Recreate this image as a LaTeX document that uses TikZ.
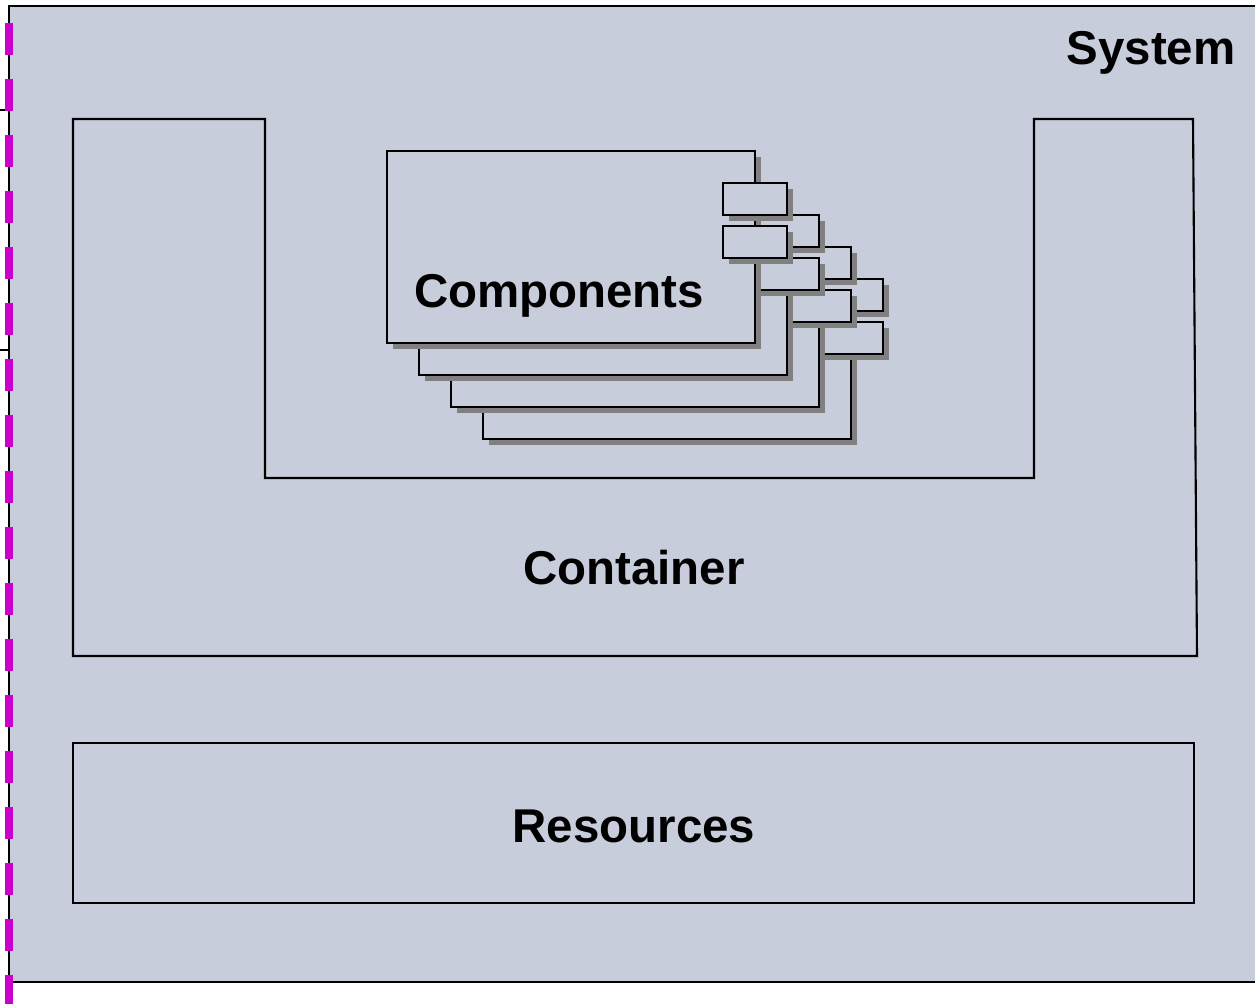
\documentclass[tikz,border=0pt]{standalone}
\usepackage{fontspec}
\setmainfont{Liberation Sans}
\definecolor{sysfill}{RGB}{200,205,219}
\definecolor{dashmag}{RGB}{204,0,204}
\definecolor{shadowgray}{RGB}{128,128,128}
\tikzset{
    outline/.style={draw=black, line width=1.2pt},
    compbox/.style={outline, fill=sysfill},
    bigtext/.style={font=\fontsize{27}{32}\selectfont\bfseries, inner sep=0pt, anchor=base},
}
\begin{document}
\begin{tikzpicture}[x=0.02cm, y=-0.02cm]
        \useasboundingbox (0,0) rectangle (1255,1004);

        %%%%%%%%%% Sistema %%%%%%%%%%
        \fill[sysfill] (9,6) rectangle (1255,982);
        \draw[outline] (1255,6) -- (9,6) -- (9,982) -- (1255,982);
        \draw[outline] (0,110) -- (9,110);
        \draw[outline] (0,350) -- (9,350);
        \draw[dashmag, line width=4.55pt, dash pattern=on 18.2pt off 13.66pt] (9,23) -- (9,1004);

        %%%%%%%%% Container %%%%%%%%
        \draw[outline] (73,119) -- (265,119) -- (265,478) -- (1034,478) -- (1034,119)
            -- (1193,119) -- (1197,656) -- (73,656) -- cycle;

        %%%%%%%%% Resources %%%%%%%%
        \draw[outline] (73,743) rectangle (1194,903);

        %%%%%%%%% Componenti %%%%%%%%
        \foreach \k in {3,2,1,0} {
            \pgfmathsetmacro\d{32*\k}
            \fill[shadowgray] (393+\d,157+\d) rectangle ++(368,192);
            \draw[compbox] (387+\d,151+\d) rectangle ++(368,192);
            \foreach \py in {183,226} {
                \fill[shadowgray] (729+\d,\py+6+\d) rectangle ++(64,32);
                \draw[compbox] (723+\d,\py+\d) rectangle ++(64,32);
            }
        }

        %%%%%%%%% Testo %%%%%%%%%%
        \node[bigtext] (system) at (1151,64) {System};
        \node[bigtext] (components) at (559,307) {Components};
        \node[bigtext] (container) at (634,584) {Container};
        \node[bigtext] (resources) at (634,842) {Resources};
\end{tikzpicture}
\end{document}
